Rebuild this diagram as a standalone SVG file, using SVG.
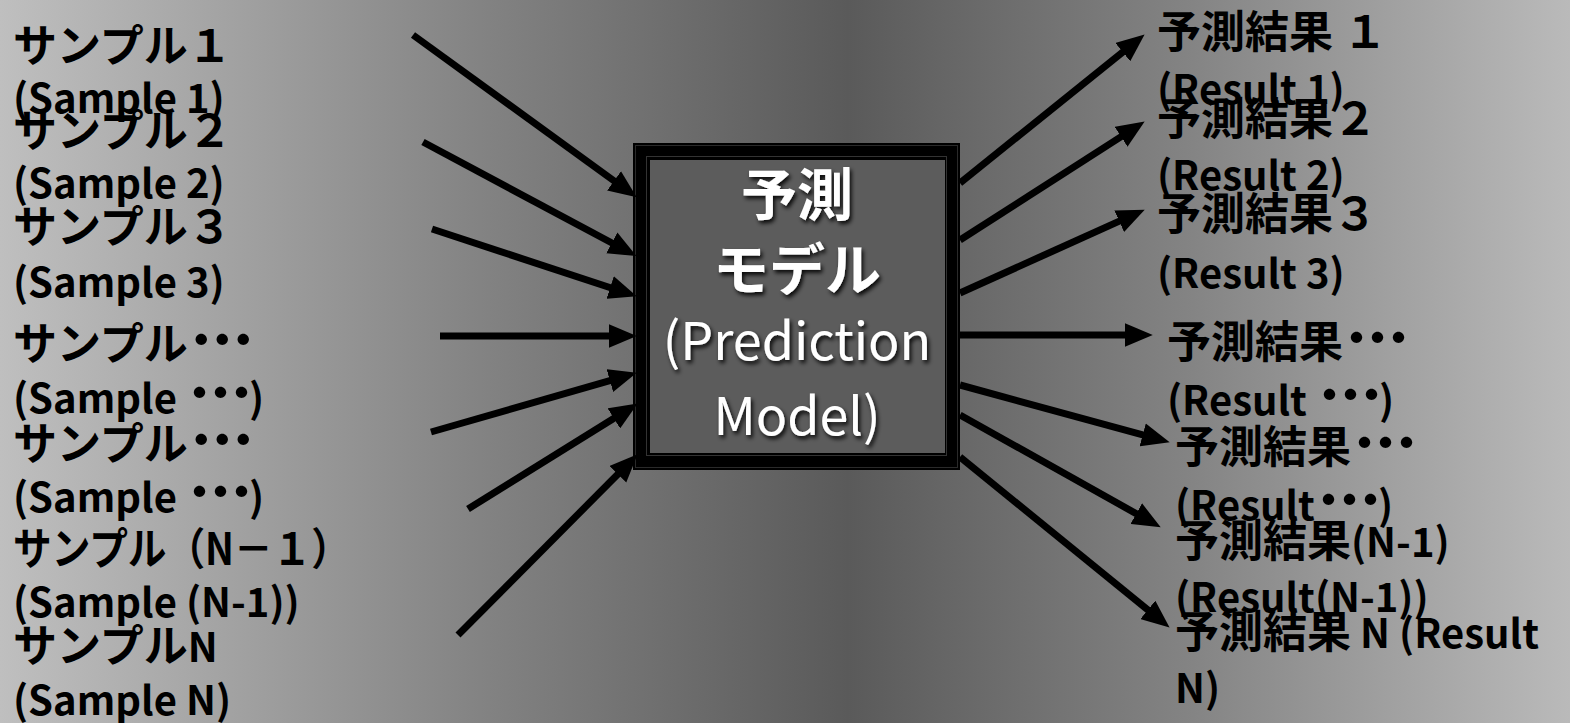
<svg xmlns="http://www.w3.org/2000/svg" width="1570" height="723" viewBox="0 0 1570 723">
<style>
.lbl{font-family:"Noto Sans CJK JP","Noto Sans",sans-serif;font-size:44px;font-weight:bold;fill:#000}
.lat{font-size:40px}
.dot{font-size:54px;font-weight:900;letter-spacing:-6px}
.ctr{font-family:"Noto Sans CJK JP","Noto Sans",sans-serif;fill:#fff;text-anchor:middle}
.arr{stroke:#000;stroke-width:7;fill:none;marker-end:url(#ah)}
</style>
<defs>
<linearGradient id="bg" x1="0" y1="0" x2="1" y2="0">
<stop offset="0" stop-color="#bfbfbf"/>
<stop offset="0.3" stop-color="#848484"/>
<stop offset="0.54" stop-color="#5a5a5a"/>
<stop offset="0.76" stop-color="#848484"/>
<stop offset="1" stop-color="#bababa"/>
</linearGradient>
<marker id="ah" markerUnits="userSpaceOnUse" markerWidth="28" markerHeight="24" viewBox="0 0 26 22" refX="16" refY="11" orient="auto">
<path d="M0,0 L26,11 L0,22 z" fill="#000"/>
</marker>
<filter id="sh" x="-20%" y="-20%" width="140%" height="140%">
<feDropShadow dx="2" dy="3" stdDeviation="2" flood-color="#000" flood-opacity="0.9"/>
</filter>
</defs>
<rect x="0" y="0" width="1570" height="723" fill="url(#bg)"/>

<g id="model">
<rect x="633" y="143" width="327" height="327" fill="#000"/>
<rect x="635.5" y="145.5" width="322" height="322" fill="none" stroke="#2a2a2a" stroke-width="1"/>
<rect x="646.5" y="156.5" width="300" height="299" fill="none" stroke="#333" stroke-width="1"/>
<rect x="650" y="160" width="295" height="293" fill="#5c5c5c"/>
<g filter="url(#sh)">
<text class="ctr" x="797" y="215" font-size="56" font-weight="bold">予測</text>
<text class="ctr" x="797" y="290" font-size="56" font-weight="bold">モデル</text>
<text class="ctr" x="797" y="360" font-size="52">(Prediction</text>
<text class="ctr" x="797" y="435" font-size="52">Model)</text>
</g>
</g>

<g id="connectors">
<line class="arr" x1="413" y1="35" x2="628" y2="191"/>
<line class="arr" x1="423" y1="142" x2="627" y2="251"/>
<line class="arr" x1="432" y1="229" x2="626.5" y2="293"/>
<line class="arr" x1="440" y1="336" x2="626" y2="336"/>
<line class="arr" x1="431" y1="432" x2="626.4" y2="375.8"/>
<line class="arr" x1="468" y1="509" x2="628.5" y2="409.3"/>
<line class="arr" x1="458" y1="635" x2="630" y2="462"/>
<line class="arr" x1="960" y1="183" x2="1136.2" y2="41.3"/>
<line class="arr" x1="960" y1="240" x2="1135.6" y2="127.4"/>
<line class="arr" x1="960" y1="293" x2="1134.9" y2="214.1"/>
<line class="arr" x1="960" y1="335" x2="1142" y2="335"/>
<line class="arr" x1="960" y1="385" x2="1159.3" y2="439.4"/>
<line class="arr" x1="960" y1="415" x2="1151.3" y2="522.1"/>
<line class="arr" x1="960" y1="457" x2="1161.2" y2="620.7"/>
</g>

<g id="sample1"><text class="lbl" x="13" y="62">サンプル１</text><text class="lbl lat" x="13" y="113">(Sample 1)</text></g>
<g id="sample2"><text class="lbl" x="13" y="147">サンプル２</text><text class="lbl lat" x="13" y="198">(Sample 2)</text></g>
<g id="sample3"><text class="lbl" x="13" y="243">サンプル３</text><text class="lbl lat" x="13" y="297">(Sample 3)</text></g>
<g id="sample4"><text class="lbl" x="13" y="360">サンプル<tspan class="dot">･･･</tspan></text><text class="lbl lat" x="13" y="413">(Sample <tspan class="dot">･･･</tspan>)</text></g>
<g id="sample5"><text class="lbl" x="13" y="460">サンプル<tspan class="dot">･･･</tspan></text><text class="lbl lat" x="13" y="512">(Sample <tspan class="dot">･･･</tspan>)</text></g>
<g id="sample6"><text class="lbl" x="13" y="565" textLength="337" lengthAdjust="spacingAndGlyphs">サンプル（N－１）</text><text class="lbl lat" x="13" y="617">(Sample (N-1))</text></g>
<g id="sample7"><text class="lbl" x="13" y="662">サンプル<tspan class="lat">N</tspan></text><text class="lbl lat" x="13" y="715">(Sample N)</text></g>

<g id="result1"><text class="lbl" x="1157" y="48">予測結果 １</text><text class="lbl lat" x="1157" y="104">(Result 1)</text></g>
<g id="result2"><text class="lbl" x="1157" y="135">予測結果２</text><text class="lbl lat" x="1157" y="190">(Result 2)</text></g>
<g id="result3"><text class="lbl" x="1157" y="230">予測結果３</text><text class="lbl lat" x="1157" y="288">(Result 3)</text></g>
<g id="result4"><text class="lbl" x="1167" y="358">予測結果<tspan class="dot">･･･</tspan></text><text class="lbl lat" x="1167" y="415">(Result <tspan class="dot">･･･</tspan>)</text></g>
<g id="result5"><text class="lbl" x="1175" y="463">予測結果<tspan class="dot">･･･</tspan></text><text class="lbl lat" x="1175" y="520">(Result<tspan class="dot">･･･</tspan>)</text></g>
<g id="result6"><text class="lbl" x="1175" y="557">予測結果<tspan class="lat">(N-1)</tspan></text><text class="lbl lat" x="1175" y="612">(Result(N-1))</text></g>
<g id="result7"><text class="lbl" x="1175" y="648">予測結果<tspan class="lat"> N (Result</tspan></text><text class="lbl lat" x="1175" y="703">N)</text></g>
</svg>
